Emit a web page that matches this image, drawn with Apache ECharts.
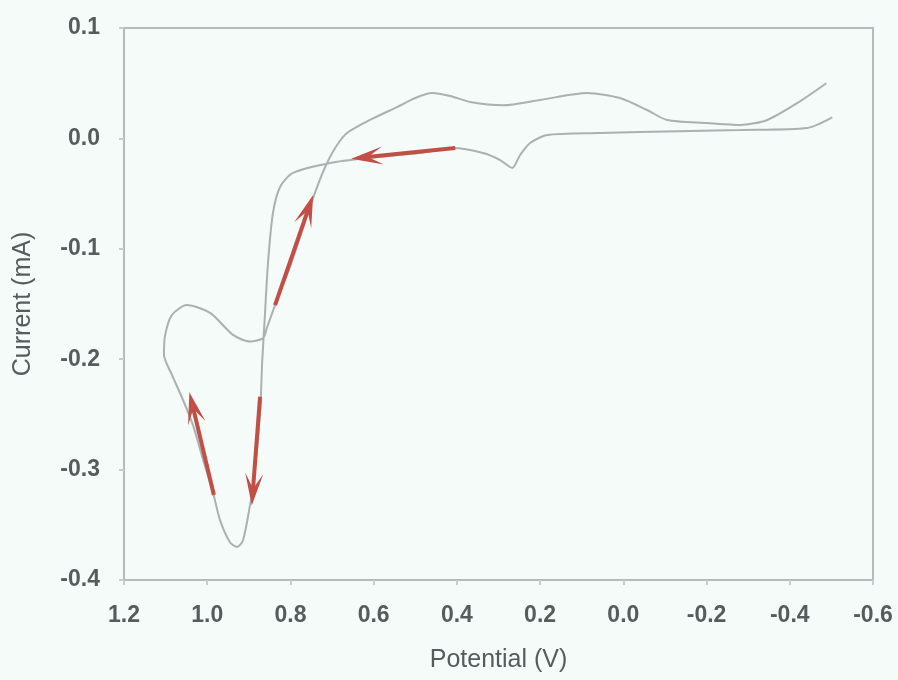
<!DOCTYPE html>
<html>
<head>
<meta charset="utf-8">
<script src="https://cdn.jsdelivr.net/npm/echarts@6/dist/echarts.min.js"></script>
<style>
  html, body { margin: 0; padding: 0; background: #f4fbf9; }
  #chart { width: 898px; height: 680px; }
</style>
</head>
<body>
<div id="chart"></div>
<script>
// Potential (V) and current (mA) along the sweep, in scan order
const potential = [-0.502, -0.442, -0.281, -0.040, 0.056, 0.183, 0.224, 0.248, 0.267, 0.296, 0.337, 0.409, 0.488, 0.616, 0.705, 0.794, 0.825, 0.842, 0.854, 0.863, 0.868, 0.873, 0.890, 0.897, 0.914, 0.928, 0.945, 0.969, 0.986, 1.010, 1.034, 1.058, 1.085, 1.104, 1.101, 1.085, 1.049, 0.993, 0.938, 0.897, 0.866, 0.856, 0.832, 0.801, 0.758, 0.734, 0.712, 0.688, 0.664, 0.609, 0.544, 0.500, 0.460, 0.416, 0.368, 0.289, 0.200, 0.087, 0.008, -0.057, -0.105, -0.201, -0.281, -0.346, -0.418, -0.488];
const current = [0.019, 0.0094, 0.0076, 0.0058, 0.0049, 0.0031, -0.0042, -0.015, -0.0268, -0.0196, -0.0132, -0.0087, -0.0132, -0.0178, -0.0223, -0.0313, -0.044, -0.0676, -0.113, -0.171, -0.203, -0.249, -0.316, -0.332, -0.364, -0.370, -0.366, -0.346, -0.321, -0.291, -0.260, -0.237, -0.214, -0.196, -0.178, -0.160, -0.151, -0.158, -0.178, -0.184, -0.181, -0.171, -0.146, -0.1165, -0.0676, -0.042, -0.0223, -0.006, 0.0049, 0.0167, 0.0284, 0.0366, 0.0411, 0.0384, 0.033, 0.030, 0.0348, 0.0411, 0.0366, 0.0257, 0.0167, 0.014, 0.0122, 0.0167, 0.032, 0.050];

// Direction arrows: [potential, current] start and end
const arrowFrom = [[0.404, -0.0087], [0.837, -0.151], [0.873, -0.234], [0.984, -0.323]];
const arrowTo   = [[0.616, -0.0169], [0.758, -0.065], [0.890, -0.318], [1.034, -0.244]];

// Axis tick values
const xTicks = [1.2, 1.0, 0.8, 0.6, 0.4, 0.2, 0.0, -0.2, -0.4, -0.6];
const yTicks = [0.1, 0.0, -0.1, -0.2, -0.3, -0.4];

const sweep = potential.map((v, i) => [v, current[i]]);
const arrowLines = arrowFrom.map((p, i) => [{ coord: p }, { coord: arrowTo[i] }]);

const chart = echarts.init(document.getElementById('chart'), null, { renderer: 'canvas' });
const textColor = '#565c5c';
const axisColor = '#b3bcbc';
const font = '"Liberation Sans", Arial, sans-serif';
const fmt = v => (Math.abs(v) < 1e-9 ? 0 : v).toFixed(1);

chart.setOption({
  backgroundColor: '#f4fbf9',
  animation: false,
  grid: {
    left: 124, right: 25, top: 28, bottom: 100,
    show: true, borderColor: axisColor, borderWidth: 2, backgroundColor: 'transparent'
  },
  xAxis: {
    type: 'value',
    inverse: true,
    min: Math.min(...xTicks),
    max: Math.max(...xTicks),
    interval: 0.2,
    name: 'Potential (V)',
    nameLocation: 'middle',
    nameGap: 68,
    nameTextStyle: { color: textColor, fontSize: 25, fontFamily: font },
    axisLine: { show: true, onZero: false, lineStyle: { color: axisColor, width: 2 } },
    axisTick: { show: true, length: 5, lineStyle: { color: '#c6cdcd', width: 2 } },
    axisLabel: { color: textColor, fontSize: 23, fontWeight: 'bold', fontFamily: font, margin: 24, formatter: fmt },
    splitLine: { show: false }
  },
  yAxis: {
    type: 'value',
    min: Math.min(...yTicks),
    max: Math.max(...yTicks),
    interval: 0.1,
    name: 'Current (mA)',
    nameLocation: 'middle',
    nameGap: 88,
    nameTextStyle: { color: textColor, fontSize: 25, fontFamily: font },
    axisLine: { show: true, onZero: false, lineStyle: { color: axisColor, width: 2 } },
    axisTick: { show: true, length: 5, lineStyle: { color: '#c6cdcd', width: 2 } },
    axisLabel: { color: textColor, fontSize: 23, fontWeight: 'bold', fontFamily: font, margin: 24, formatter: fmt },
    splitLine: { show: false }
  },
  series: [{
    type: 'line',
    data: sweep,
    showSymbol: false,
    smooth: 0.25,
    lineStyle: { color: '#a9b1b1', width: 2 },
    silent: true,
    markLine: {
      silent: true,
      symbol: ['none', 'path://M10,0 L20,34 L10,18 L0,34 Z'],
      symbolSize: [18, 32],
      label: { show: false },
      emphasis: { disabled: true },
      lineStyle: { color: '#c24f46', width: 4, type: 'solid' },
      data: arrowLines
    }
  }]
});
</script>
</body>
</html>
